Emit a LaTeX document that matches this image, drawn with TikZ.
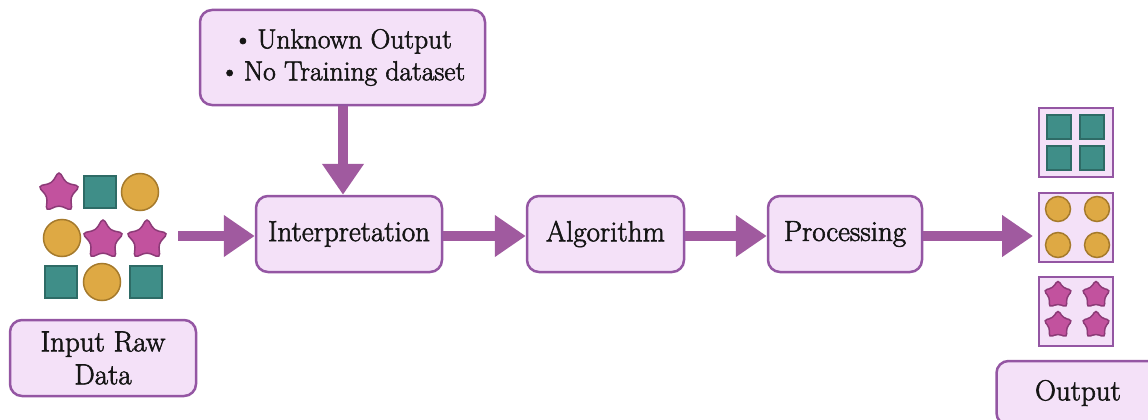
\documentclass[tikz,border=0pt]{standalone}
\usepackage{fontspec}
\setmainfont{Latin Modern Roman}[FakeBold=2]
\usetikzlibrary{arrows.meta,shapes.geometric}
\definecolor{boxfill}{HTML}{F4E1F8}
\definecolor{boxline}{HTML}{9456A3}
\definecolor{arrowc}{HTML}{A05A9F}
\definecolor{starc}{HTML}{C2529E}
\definecolor{stardk}{HTML}{8C3A77}
\definecolor{tealc}{HTML}{3F8E88}
\definecolor{tealdk}{HTML}{2E6B66}
\definecolor{goldc}{HTML}{DEA944}
\definecolor{golddk}{HTML}{A57A2C}
\definecolor{inkc}{HTML}{151515}
\tikzset{
  box/.style={draw=boxline, fill=boxfill, line width=2.5pt, rounded corners=12pt,
    text=inkc, font=\fontsize{29}{33}\selectfont, inner sep=0pt, align=center},
  grid/.style={draw=boxline, fill=boxfill, line width=2pt, minimum width=74pt,
    minimum height=69pt, inner sep=0pt},
  arr/.style={draw=arrowc, line width=10pt, -{Triangle[width=40pt,length=31pt]}},
  starshape/.style={star, star points=5, star point ratio=1.8, minimum size=#1,
    inner sep=0pt, fill=starc, draw=stardk, line width=1.5pt, rounded corners=4pt},
  sqshape/.style={rectangle, minimum size=#1, inner sep=0pt, fill=tealc,
    draw=tealdk, line width=1.2pt},
  circshape/.style={circle, minimum size=#1, inner sep=0pt, fill=goldc,
    draw=golddk, line width=1.5pt},
}
\begin{document}
\begin{tikzpicture}[x=1pt,y=-1pt]
\useasboundingbox (0,0) rectangle (1148,420);

% mixed raw data
\node[starshape=44pt] (r1) at (59,193) {};
\node[sqshape=32pt]   (r2) at (100,192) {};
\node[circshape=37pt] (r3) at (140,192) {};
\node[circshape=37pt] (r4) at (62,238) {};
\node[starshape=44pt] (r5) at (103,240) {};
\node[starshape=44pt] (r6) at (147,240) {};
\node[sqshape=32pt]   (r7) at (61,282) {};
\node[circshape=37pt] (r8) at (102,282) {};
\node[sqshape=32pt]   (r9) at (146,282) {};
\coordinate (rawout) at (178,236);

% boxes
\node[box, minimum width=285pt, minimum height=95pt,
  font=\fontsize{27.5}{32}\selectfont] (info) at (342.5,57.5)
  {\textbullet\,Unknown Output\\\textbullet\,No Training dataset};
\node[box, minimum width=186pt, minimum height=76pt] (interp) at (349,234) {Interpretation};
\node[box, minimum width=157pt, minimum height=76pt] (algo) at (605.5,234) {Algorithm};
\node[box, minimum width=154pt, minimum height=76pt] (proc) at (845,234) {Processing};
\node[box, minimum width=186pt, minimum height=76pt] (input) at (103,358) {Input Raw\\Data};
\node[box, minimum width=163pt, minimum height=64pt] (outp) at (1078,393) {Output};

% sorted output groups
\node[grid] (g1) at (1076,142) {};
\node[grid] (g2) at (1076,227) {};
\node[grid] (g3) at (1076,311) {};
\node[sqshape=24pt] (q1) at (1059,127) {};
\node[sqshape=24pt] (q2) at (1092,127) {};
\node[sqshape=24pt] (q3) at (1059,158) {};
\node[sqshape=24pt] (q4) at (1092,158) {};
\node[circshape=25pt] (c1) at (1058,209) {};
\node[circshape=25pt] (c2) at (1097,209) {};
\node[circshape=25pt] (c3) at (1058,245) {};
\node[circshape=25pt] (c4) at (1097,245) {};
\node[starshape=31pt] (t1) at (1058,295) {};
\node[starshape=31pt] (t2) at (1096,295) {};
\node[starshape=31pt] (t3) at (1058,325) {};
\node[starshape=31pt] (t4) at (1096,325) {};

% flow arrows
\draw[arr] (info.south -| 343,0) -- (343,0 |- interp.north);
\draw[arr] (rawout) -- (interp.west |- rawout);
\draw[arr] (interp.east |- rawout) -- (algo.west |- rawout);
\draw[arr] (algo.east |- rawout) -- (proc.west |- rawout);
\draw[arr] (proc.east |- rawout) -- ([xshift=-5pt]g2.west |- rawout);
\end{tikzpicture}
\end{document}
